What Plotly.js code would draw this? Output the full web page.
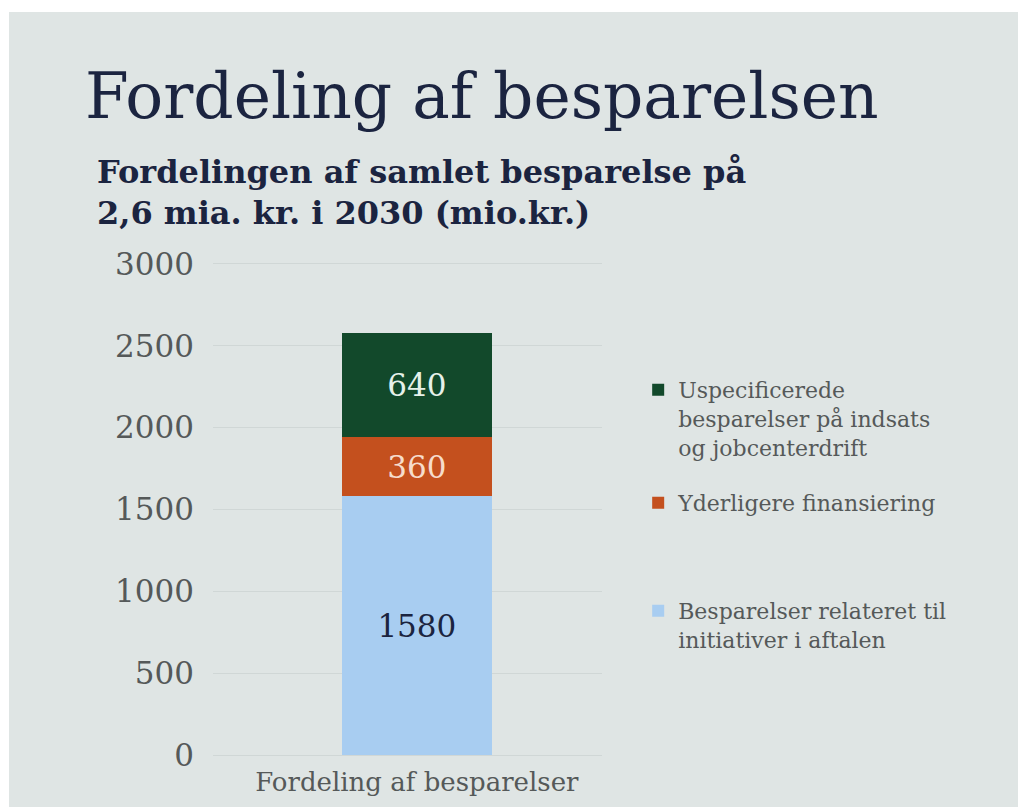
<!DOCTYPE html>
<html>
<head>
<meta charset="utf-8">
<script src="https://cdn.plot.ly/plotly-3.0.1.min.js"></script>
<style>
  html, body { margin: 0; padding: 0; background: #ffffff; width: 1018px; height: 807px; overflow: hidden; }
  #chart { position: absolute; left: 9px; top: 12px; width: 1009px; height: 795px; }
</style>
</head>
<body>
<div id="chart"></div>
<script>
// ---- data ----
const categories = ["Fordeling af besparelser"];
const seriesNames = [
  "Besparelser relateret til<br>initiativer i aftalen",
  "Yderligere finansiering",
  "Uspecificerede<br>besparelser på indsats<br>og jobcenterdrift"
];
const initiativer = [1580];
const yderligere = [360];
const uspecificerede = [640];
const yTicks = [0, 500, 1000, 1500, 2000, 2500, 3000];

const serif = "DejaVu Serif, Liberation Serif, serif";
const colors = ["#a8cdf1", "#c4501e", "#12492b"];
const textColors = ["#1b2440", "#f6dccb", "#e6f1ea"];
const seriesValues = [initiativer, yderligere, uspecificerede];
const legendIds = ["legend3", "legend2", "legend"];

const traces = seriesValues.map((vals, i) => ({
  type: "bar",
  x: categories,
  y: vals,
  name: seriesNames[i],
  legend: legendIds[i],
  marker: { color: colors[i], line: { width: 0 } },
  width: 0.386,
  text: vals.map(String),
  textposition: "inside",
  insidetextanchor: "middle",
  textfont: { family: serif, size: 31, color: textColors[i] },
  hoverinfo: "skip"
}));

const legendCommon = {
  x: 1.093, xanchor: "left", yanchor: "top",
  bgcolor: "rgba(0,0,0,0)", borderwidth: 0,
  font: { family: serif, size: 22, color: "#555959" },
  itemwidth: 30,
  valign: "top"
};

const layout = {
  width: 1009, height: 795,
  paper_bgcolor: "#dfe5e4",
  plot_bgcolor: "#dfe5e4",
  margin: { l: 204, r: 416, t: 250, b: 52 },
  barmode: "stack",
  bargap: 0,
  title: {
    text: "Fordeling af besparelsen",
    font: { family: serif, size: 63, color: "#1b2440" },
    xref: "container", x: 76 / 1009, xanchor: "left",
    yref: "container", y: 1 - 84 / 795, yanchor: "middle"
  },
  annotations: [
    {
      text: "<b>Fordelingen af samlet besparelse på</b>",
      xref: "paper", yref: "paper", x: -0.303, y: (755 - 172) / 493,
      xanchor: "left", yanchor: "middle", showarrow: false,
      font: { family: serif, size: 32, color: "#1b2440" }
    },
    {
      text: "<b>2,6 mia. kr. i 2030 (mio.kr.)</b>",
      xref: "paper", yref: "paper", x: -0.303, y: (755 - 213) / 493,
      xanchor: "left", yanchor: "middle", showarrow: false,
      font: { family: serif, size: 32, color: "#1b2440" }
    }
  ],
  xaxis: {
    type: "category",
    range: [-0.524, 0.476],
    showgrid: false, zeroline: false, showline: false,
    ticks: "",
    ticklabelstandoff: 9,
    tickfont: { family: serif, size: 26, color: "#555959" },
    fixedrange: true
  },
  yaxis: {
    range: [0, 3012],
    tickvals: yTicks,
    ticktext: yTicks.map(String),
    showgrid: true, gridcolor: "#d0d7d6", gridwidth: 1,
    zeroline: true, zerolinecolor: "#d0d7d6", zerolinewidth: 1,
    showline: false, ticks: "",
    ticklabelstandoff: 18,
    tickfont: { family: serif, size: 31, color: "#555959" },
    fixedrange: true
  },
  legend: Object.assign({}, legendCommon, { y: (755 - 369) / 493 }),
  legend2: Object.assign({}, legendCommon, { y: (755 - 482) / 493 }),
  legend3: Object.assign({}, legendCommon, { y: (755 - 590) / 493 }),
  showlegend: true
};

Plotly.newPlot("chart", traces, layout, { displayModeBar: false, staticPlot: true });
</script>
</body>
</html>
